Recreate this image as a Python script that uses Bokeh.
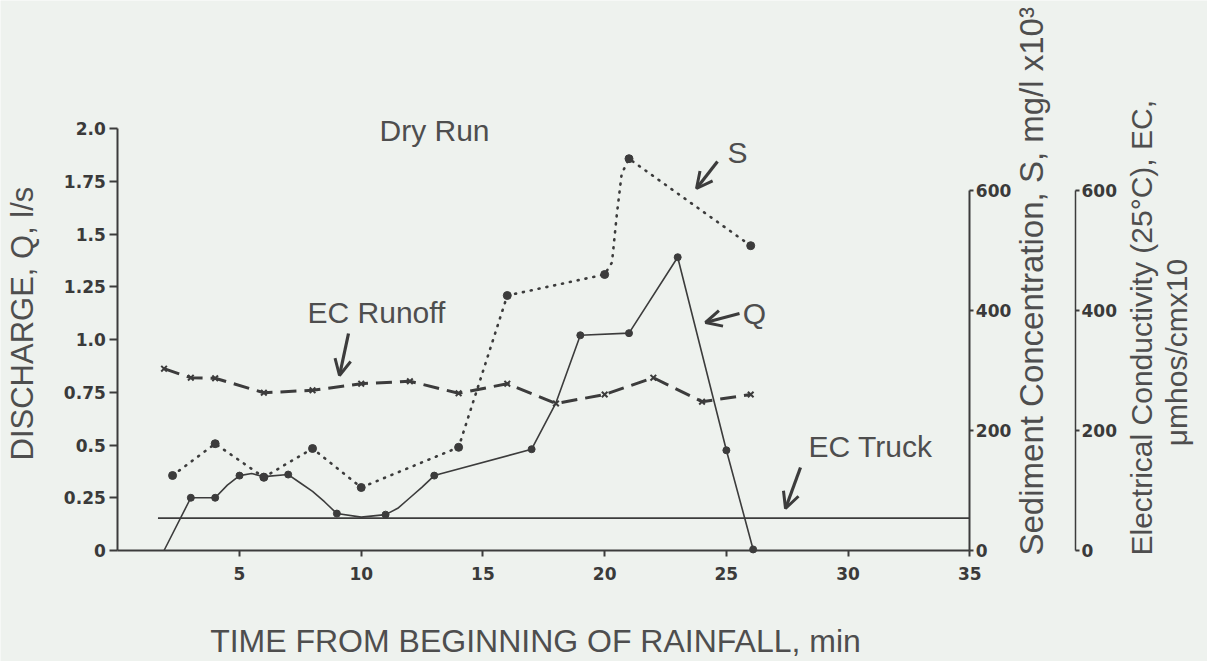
from math import pi
from bokeh.plotting import figure
from bokeh.models import Range1d, LinearAxis, FixedTicker, Label, Arrow, OpenHead
from bokeh.embed import file_html
from bokeh.resources import INLINE

# ---------------- data ----------------
# Discharge Q (l/s): measured points (dots)
q_time = [3, 4, 5, 6, 7, 9, 11, 13, 17, 19, 21, 23, 25, 26.1]
q_val = [0.25, 0.25, 0.355, 0.35, 0.36, 0.175, 0.17, 0.355, 0.48, 1.02, 1.03, 1.39, 0.475, 0.005]
# traced smooth Q curve
q_curve_time = [1.9, 3, 4, 4.5, 5, 5.5, 6, 7, 7.5, 8, 8.5, 9, 10, 11, 11.5, 12, 12.5, 13, 17, 18, 19, 21, 23, 25, 26.1]
q_curve_val = [0, 0.25, 0.25, 0.31, 0.355, 0.365, 0.35, 0.36, 0.32, 0.28, 0.23, 0.175, 0.158, 0.17, 0.20, 0.25, 0.30, 0.355, 0.48, 0.70, 1.02, 1.03, 1.39, 0.475, 0.005]

# Sediment concentration S (mg/l x10^3): measured points
s_time = [2.25, 4, 6, 8, 10, 14, 16, 20, 21, 26]
s_val = [125, 178, 122, 170, 105, 172, 425, 460, 653, 508]
# traced S curve
s_curve_time = [2.25, 4, 6, 8, 10, 14, 16, 20, 20.3, 20.5, 20.7, 21, 26]
s_curve_val = [125, 178, 122, 170, 105, 172, 425, 460, 480, 560, 628, 653, 508]

# EC runoff (umhos/cm x10)
ec_time = [1.9, 3, 4, 6, 8, 10, 12, 14, 16, 18, 20, 22, 24, 26]
ec_val = [303, 288, 287, 263, 267, 278, 282, 262, 278, 245, 260, 288, 248, 260]

# EC truck
truck_time = [1.65, 35]
truck_val = [54, 54]

x_ticks = [5, 10, 15, 20, 25, 30, 35]
y_ticks = [0, 0.25, 0.5, 0.75, 1.0, 1.25, 1.5, 1.75, 2.0]
y_tick_labels = ["0", "0.25", "0.5", "0.75", "1.0", "1.25", "1.5", "1.75", "2.0"]
r_ticks = [0, 200, 400, 600]

# ---------------- layout constants (pixel geometry of the frame) ----------------
W, H = 1207, 661
X0_PX, PX_PER_MIN = 117.3, 24.343      # t = 0 at x px, px per minute
Y0_PX, PX_PER_Q = 550.0, 211.0         # Q = 0 at y px, px per l/s
PX_PER_S = 0.6                          # px per unit on the S / EC axes
EC_AXIS_PX = 1075.0
SHIFT = 11                              # baseline correction for labels

BG = "#eef2ee"
INK = "#3c3c3c"
TXT = "#4e4e4e"
TITLE_FONT = "Liberation Sans"
TICK_FONT = "DejaVu Sans"


def tx(px):
    return (px - X0_PX) / PX_PER_MIN


def qy(py):
    return (Y0_PX - py) / PX_PER_Q


def sy(py):
    return (Y0_PX - py) / PX_PER_S


p = figure(width=W, height=H, output_backend="svg", toolbar_location=None,
           x_range=Range1d(tx(0), tx(W)), y_range=Range1d(qy(H), qy(0)),
           min_border=0, min_border_left=0, min_border_right=0,
           min_border_top=0, min_border_bottom=0,
           background_fill_color=BG, border_fill_color=BG, outline_line_color=None)
p.grid.visible = False
p.extra_y_ranges = {"s": Range1d(sy(H), sy(0)), "ec": Range1d(sy(H), sy(0))}


def style_axis(ax, size="17px"):
    ax.axis_line_color = INK
    ax.axis_line_width = 2
    ax.major_tick_line_color = INK
    ax.major_tick_line_width = 2
    ax.minor_tick_line_color = None
    ax.major_tick_in = 0
    ax.major_label_text_font = TICK_FONT
    ax.major_label_text_font_style = "bold"
    ax.major_label_text_font_size = size
    ax.major_label_text_color = "#3a3a3a"


xa = p.xaxis[0]
style_axis(xa)
xa.ticker = FixedTicker(ticks=x_ticks)
xa.bounds = (0, 35)
xa.fixed_location = 0
xa.major_tick_out = 6
xa.major_label_standoff = 10

ya = p.yaxis[0]
style_axis(ya)
ya.ticker = FixedTicker(ticks=y_ticks)
ya.major_label_overrides = {t: l for t, l in zip(y_ticks, y_tick_labels)}
ya.bounds = (0, 2.0)
ya.fixed_location = 0
ya.major_tick_out = 8
ya.major_label_standoff = 4

s_axis = LinearAxis(y_range_name="s", ticker=FixedTicker(ticks=r_ticks), bounds=(0, 600),
                    fixed_location=35)
style_axis(s_axis)
s_axis.major_tick_out = 4
s_axis.major_label_standoff = 2
p.add_layout(s_axis, "right")

ec_axis = LinearAxis(y_range_name="ec", ticker=FixedTicker(ticks=r_ticks), bounds=(0, 600),
                     fixed_location=tx(EC_AXIS_PX))
style_axis(ec_axis)
ec_axis.axis_line_width = 1.5
ec_axis.major_tick_out = 4
ec_axis.major_label_standoff = 2
p.add_layout(ec_axis, "right")

# ---------------- series ----------------
p.line(truck_time, truck_val, y_range_name="ec", line_color=INK, line_width=1.6)

p.line(ec_time, ec_val, y_range_name="ec", line_color=INK, line_width=3, line_dash="16 8")
p.scatter(ec_time, ec_val, y_range_name="ec", marker="x", size=8, line_color=INK, line_width=2)

p.line(s_curve_time, s_curve_val, y_range_name="s", line_color=INK, line_width=2.6,
       line_dash="1 7", line_cap="round")
p.scatter(s_time, s_val, y_range_name="s", marker="circle", size=8, fill_color=INK, line_color=INK)

p.line(q_curve_time, q_curve_val, line_color=INK, line_width=1.6)
p.scatter(q_time, q_val, marker="circle", size=7, fill_color=INK, line_color=INK)


# ---------------- annotations (pixel geometry -> data) ----------------
def add_text(text, px, py, align="center", angle=0.0, size="30px"):
    if angle:
        px -= SHIFT
    else:
        py -= SHIFT
    p.add_layout(Label(x=tx(px), y=qy(py), text=text, text_align=align,
                       text_baseline="alphabetic", angle=angle,
                       text_font=TITLE_FONT, text_font_size=size,
                       text_color=TXT))


add_text("Dry Run", 434, 141)
add_text("EC Runoff", 376, 323)
add_text("S", 737, 163)
add_text("Q", 754, 324)
add_text("EC Truck", 870, 457)

add_text("DISCHARGE, Q, l/s", 33, 460, align="left", angle=pi / 2, size="31px")
add_text("TIME FROM BEGINNING OF RAINFALL, min", 535, 651, size="32px")
add_text("Sediment Concentration, S, mg/l x10\u00b3", 1042, 555, align="left", angle=pi / 2, size="33px")
add_text("Electrical Conductivity (25\u00b0C), EC,", 1152, 555, align="left", angle=pi / 2, size="30px")
add_text("\u03bcmhos/cmx10", 1187, 352, align="center", angle=pi / 2, size="30px")


def add_arrow(x0, y0, x1, y1):
    p.add_layout(Arrow(end=OpenHead(size=16, line_width=3, line_color=INK),
                       x_start=tx(x0), y_start=qy(y0), x_end=tx(x1), y_end=qy(y1),
                       line_width=3.2, line_color=INK))


add_arrow(348, 333, 339, 375)
add_arrow(717, 161, 696, 188)
add_arrow(739, 313, 705, 322)
add_arrow(800, 467, 785, 508)

open("out.html", "w").write(file_html(p, INLINE))
